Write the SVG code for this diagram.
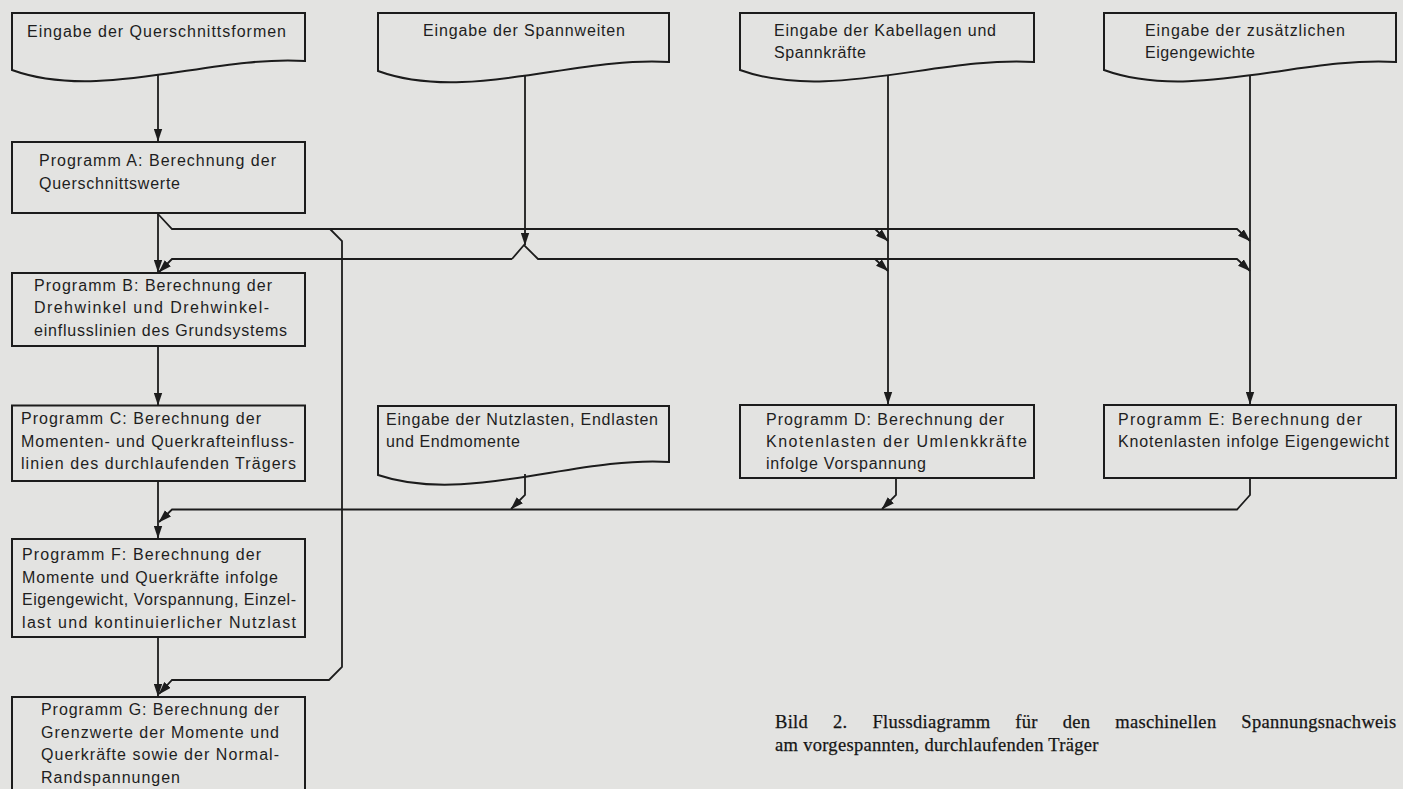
<svg xmlns="http://www.w3.org/2000/svg" width="1403" height="789" viewBox="0 0 1403 789">
<defs>
<marker id="ah" viewBox="0 0 12 8" refX="11.5" refY="4" markerWidth="13" markerHeight="9" markerUnits="userSpaceOnUse" orient="auto">
<path d="M0,0 L12,4 L0,8 z" fill="#1c1c1c"/>
</marker>
</defs>
<style>
.bg{fill:#e3e3e1}
.box{fill:none;stroke:#1c1c1c;stroke-width:2}
.t{font-family:"Liberation Sans",Arial,sans-serif;font-size:16px;fill:#1e1e1e}
.cap{font-family:"Liberation Serif","Times New Roman",serif;font-size:18.5px;letter-spacing:0.3px;fill:#151515;stroke:#151515;stroke-width:0.25}
.c{fill:none;stroke:#1c1c1c;stroke-width:1.8}
.a{marker-end:url(#ah)}
</style>
<rect class="bg" x="0" y="0" width="1403" height="789"/>

<g id="in-querschnitt">
<path class="box" d="M12,70 V13 H305 V61 C211,55 100,102 12,70 Z"/>
<text class="t" x="27" y="37" textLength="259" lengthAdjust="spacing">Eingabe der Querschnittsformen</text>
</g>
<g id="in-spannweiten">
<path class="box" d="M378,71 V13 H669 V62 C576,56 466,103 378,71 Z"/>
<text class="t" x="423" y="36" textLength="202" lengthAdjust="spacing">Eingabe der Spannweiten</text>
</g>
<g id="in-kabellagen">
<path class="box" d="M740,70 V13 H1034 V62 C940,56 828,102 740,70 Z"/>
<text class="t" x="774" y="36" textLength="222" lengthAdjust="spacing">Eingabe der Kabellagen und</text>
<text class="t" x="774" y="58" textLength="92" lengthAdjust="spacing">Spannkräfte</text>
</g>
<g id="in-eigengewichte">
<path class="box" d="M1104,70 V13 H1396 V62 C1302,56 1192,102 1104,70 Z"/>
<text class="t" x="1145" y="36" textLength="200" lengthAdjust="spacing">Eingabe der zusätzlichen</text>
<text class="t" x="1145" y="58" textLength="110" lengthAdjust="spacing">Eigengewichte</text>
</g>
<g id="prog-a">
<rect class="box" x="12" y="142" width="293" height="71"/>
<text class="t" x="39" y="166" textLength="237" lengthAdjust="spacing">Programm A: Berechnung der</text>
<text class="t" x="39" y="188.5" textLength="141" lengthAdjust="spacing">Querschnittswerte</text>
</g>
<g id="prog-b">
<rect class="box" x="12" y="273" width="293" height="73"/>
<text class="t" x="34" y="290.5" textLength="238" lengthAdjust="spacing">Programm B: Berechnung der</text>
<text class="t" x="34" y="313" textLength="235" lengthAdjust="spacing">Drehwinkel und Drehwinkel-</text>
<text class="t" x="34" y="335.5" textLength="253" lengthAdjust="spacing">einflusslinien des Grundsystems</text>
</g>
<g id="prog-c">
<rect class="box" x="12" y="405.5" width="293" height="75.5"/>
<text class="t" x="21" y="424" textLength="240" lengthAdjust="spacing">Programm C: Berechnung der</text>
<text class="t" x="21" y="446.5" textLength="273" lengthAdjust="spacing">Momenten- und Querkrafteinfluss-</text>
<text class="t" x="21" y="469" textLength="275" lengthAdjust="spacing">linien des durchlaufenden Trägers</text>
</g>
<g id="in-nutzlasten">
<path class="box" d="M378,475 V406 H669 V462 C576,456 466,505 378,475 Z"/>
<text class="t" x="386" y="425" textLength="272" lengthAdjust="spacing">Eingabe der Nutzlasten, Endlasten</text>
<text class="t" x="386" y="447" textLength="134" lengthAdjust="spacing">und Endmomente</text>
</g>
<g id="prog-d">
<rect class="box" x="740" y="405" width="294" height="73"/>
<text class="t" x="766" y="425" textLength="238" lengthAdjust="spacing">Programm D: Berechnung der</text>
<text class="t" x="766" y="447" textLength="261" lengthAdjust="spacing">Knotenlasten der Umlenkkräfte</text>
<text class="t" x="766" y="468.5" textLength="160" lengthAdjust="spacing">infolge Vorspannung</text>
</g>
<g id="prog-e">
<rect class="box" x="1104" y="405" width="292" height="73"/>
<text class="t" x="1118" y="425" textLength="244" lengthAdjust="spacing">Programm E: Berechnung der</text>
<text class="t" x="1118" y="447" textLength="271" lengthAdjust="spacing">Knotenlasten infolge Eigengewicht</text>
</g>
<g id="prog-f">
<rect class="box" x="12" y="539" width="293" height="98"/>
<text class="t" x="22" y="560" textLength="239" lengthAdjust="spacing">Programm F: Berechnung der</text>
<text class="t" x="22" y="582.5" textLength="256" lengthAdjust="spacing">Momente und Querkräfte infolge</text>
<text class="t" x="22" y="605" textLength="274" lengthAdjust="spacing">Eigengewicht, Vorspannung, Einzel-</text>
<text class="t" x="22" y="628" textLength="274" lengthAdjust="spacing">last und kontinuierlicher Nutzlast</text>
</g>
<g id="prog-g">
<rect class="box" x="12" y="697" width="293" height="120"/>
<text class="t" x="41" y="715" textLength="238" lengthAdjust="spacing">Programm G: Berechnung der</text>
<text class="t" x="41" y="737.5" textLength="238" lengthAdjust="spacing">Grenzwerte der Momente und</text>
<text class="t" x="41" y="760" textLength="238" lengthAdjust="spacing">Querkräfte sowie der Normal-</text>
<text class="t" x="41" y="782.5" textLength="139" lengthAdjust="spacing">Randspannungen</text>
</g>

<g id="connectors">
<path class="c a" d="M158,75 V141"/>
<path class="c a" d="M158,213 V272"/>
<path class="c a" d="M158,214 L172,229 H1237 L1250,241"/>
<path class="c a" d="M330,229 L342,241 V667 L329,680 H172 L159,694"/>
<path class="c a" d="M875,229 L888,241"/>
<path class="c a" d="M525,76 V245"/>
<path class="c a" d="M512,259 H172 L159,272"/>
<path class="c a" d="M512,259 L524,245 L538,259 H1237 L1250,271"/>
<path class="c a" d="M875,259 L888,271"/>
<path class="c a" d="M888,75 V404"/>
<path class="c a" d="M1250,75 V404"/>
<path class="c a" d="M158,346 V405"/>
<path class="c a" d="M158,481 V538"/>
<path class="c a" d="M1250,478 V495 L1237,509.5 H172 L159,522"/>
<path class="c a" d="M525,474 V495 L511,509"/>
<path class="c a" d="M896,478 V495 L882,509"/>
<path class="c a" d="M158,637 V696"/>
</g>

<g id="caption">
<text class="cap" x="775" y="728" word-spacing="20">Bild 2. Flussdiagramm für den maschinellen Spannungsnachweis</text>
<text class="cap" x="775" y="751">am vorgespannten, durchlaufenden Träger</text>
</g>
</svg>
